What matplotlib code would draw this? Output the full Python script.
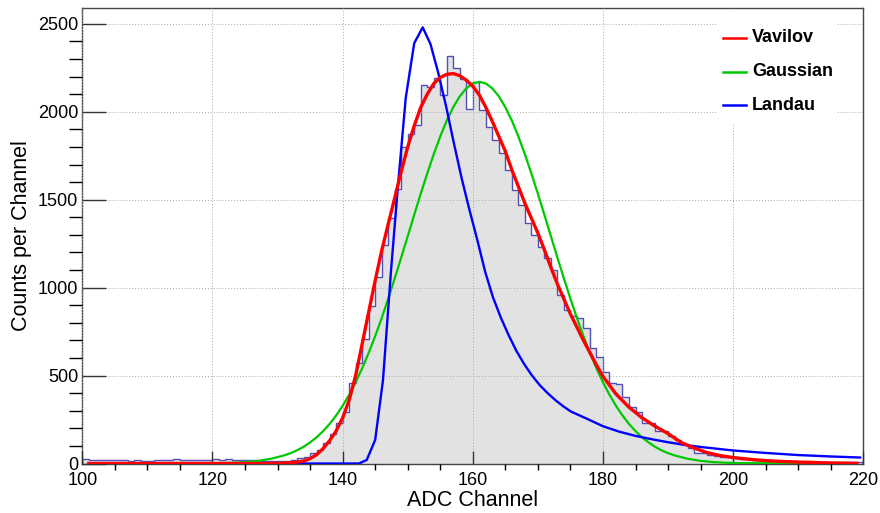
import numpy as np
import matplotlib
matplotlib.use("Agg")
import matplotlib.pyplot as plt
from matplotlib.lines import Line2D
from matplotlib.patches import Rectangle

# ---- data -------------------------------------------------------------
bin_low = 100
bin_high = 220
counts = [
    28, 22, 20, 22, 20, 22, 18, 16, 18, 15,            # 100-109
    17, 20, 18, 22, 24, 20, 22, 18, 20, 22,            # 110-119
    25, 22, 24, 20, 22, 20, 18, 16, 14, 12,            # 120-129
    12, 14, 20, 29, 39, 58, 77, 115, 167, 232,         # 130-139
    294, 456, 573, 706, 895, 1058, 1241, 1395, 1558, 1800,   # 140-149
    1872, 1923, 2155, 2141, 2192, 2094, 2317, 2251, 2188, 2018,  # 150-159
    2170, 2008, 1914, 1838, 1764, 1667, 1554, 1469, 1365, 1298,  # 160-169
    1232, 1166, 1099, 957, 872, 840, 830, 768, 655, 603,     # 170-179
    518, 456, 450, 380, 323, 294, 228, 228, 186, 186,        # 180-189
    156, 135, 110, 90, 60, 58, 50, 45, 35, 35,               # 190-199
    30, 28, 25, 20, 18, 16, 15, 14, 12, 12,                  # 200-209
    10, 12, 10, 8, 10, 8, 10, 8, 6, 8,                       # 210-219
]

vavilov_x = [101, 128, 131, 133, 134, 135, 136, 137, 138, 139, 140, 141, 142,
             143, 144, 145, 146, 147, 148, 149, 150, 151, 152, 153, 154, 155,
             156, 157, 158, 159, 160, 161, 162, 163, 164, 165, 166, 167, 168,
             169, 170, 171, 172, 173, 174, 175, 176, 177, 178, 179, 180, 182,
             184, 186, 188, 190, 192, 194, 196, 198, 200, 203, 206, 210, 215,
             219]
vavilov_y = [0, 0, 2, 8, 14, 28, 50, 85, 130, 185, 260, 360, 500,
             680, 860, 1040, 1210, 1360, 1510, 1660, 1800, 1920, 2025, 2100,
             2160, 2195, 2213, 2217, 2205, 2180, 2145, 2095, 2025, 1945, 1860,
             1775, 1670, 1575, 1480, 1395, 1310, 1215, 1115, 1020, 935, 850,
             775, 700, 630, 560, 495, 395, 320, 260, 212, 170, 120, 88, 62, 45,
             34, 22, 14, 8, 3, 1]

gauss_x = [101, 121, 123, 125, 127, 129, 131, 132, 133, 134, 135, 136, 137,
           138, 139, 140, 141, 142, 143, 144, 145, 146, 147, 148, 149, 150,
           151, 152, 153, 154, 155, 156, 157, 158, 159, 160, 161, 162, 163,
           164, 165, 166, 167, 168, 169, 170, 171, 172, 173, 174, 175, 176,
           177, 178, 179, 180, 181, 182, 183, 184, 185, 186, 187, 188, 189,
           190, 191, 193, 195, 197, 199, 201, 219]
gauss_y = [0, 2, 4, 8, 15, 27, 46, 59, 75, 95, 120, 149, 184,
           225, 273, 328, 391, 462, 541, 629, 724, 827, 937, 1052, 1171, 1292,
           1414, 1534, 1649, 1759, 1860, 1950, 2026, 2088, 2133, 2161, 2170,
           2161, 2133, 2088, 2026, 1950, 1860, 1759, 1649, 1534, 1414, 1292,
           1171, 1052, 937, 827, 724, 629, 541, 462, 391, 328, 273, 225, 184,
           149, 120, 95, 75, 59, 46, 27, 15, 8, 4, 2, 0]

landau_x = [132, 142.5, 143.7, 145.0, 146.2, 147.4, 148.5, 149.7, 151.0,
            152.3, 153.5, 154.7, 155.9, 157.1, 158.3, 159.5, 160.7, 161.9,
            163.1, 164.3, 165.5, 166.7, 167.9, 169.1, 170.3, 171.5, 172.7,
            173.9, 175.1, 177.5, 180, 182.5, 185, 187.5, 190, 192.5, 195,
            200, 205, 210, 215, 219.5]
landau_y = [0, 0, 20, 134, 474, 1080, 1580, 2080, 2390,
            2480, 2385, 2220, 2030, 1820, 1620, 1440, 1270, 1090,
            945, 830, 730, 640, 565, 500, 445, 400, 360,
            325, 295, 255, 212, 181, 157, 138, 121, 106, 94,
            74, 60, 48, 40, 34]

legend_labels = ["Vavilov", "Gaussian", "Landau"]
legend_colors = ["#ff0000", "#00c800", "#0000ff"]

# ---- figure -----------------------------------------------------------
plt.rcParams["font.family"] = ["Liberation Sans", "DejaVu Sans"]

W, H = 880, 513
fig = plt.figure(figsize=(W / 100, H / 100), dpi=100)
ax = fig.add_axes([82.3 / W, 1 - 463.5 / H, (863.3 - 82.3) / W, (463.5 - 8) / H])

edges = np.arange(bin_low, bin_high + 1)
ax.stairs(counts, edges, fill=True, color="#e2e2e2", zorder=1)
ax.stairs(counts, edges, color="#5050b8", lw=1.0, zorder=2)

ax.plot(gauss_x, gauss_y, color=legend_colors[1], lw=1.6, zorder=4)
ax.plot(landau_x, landau_y, color=legend_colors[2], lw=1.7, zorder=5)
ax.plot(vavilov_x, vavilov_y, color=legend_colors[0], lw=2.4, zorder=6,
        solid_joinstyle="round")

ax.set_xlim(bin_low, bin_high)
ax.set_ylim(0, 2590)

ax.set_xticks(np.arange(100, 221, 20))
ax.set_xticks(np.arange(100, 221, 5), minor=True)
ax.set_yticks(np.arange(0, 2501, 500))
ax.set_yticks(np.arange(0, 2590, 100), minor=True)

ax.set_axisbelow(False)
ax.grid(True, which="major", color="#a8a8a8", lw=0.7, linestyle=(0, (1, 2)))

ax.tick_params(axis="both", direction="in", colors="#333333", labelcolor="black",
               labelsize=13, top=False, right=False)
ax.tick_params(axis="x", which="major", length=13 / 1.389, width=1.0, pad=6)
ax.tick_params(axis="x", which="minor", length=6.5 / 1.389, width=1.0)
ax.tick_params(axis="y", which="major", length=24 / 1.389, width=1.0, pad=3)
ax.tick_params(axis="y", which="minor", length=13 / 1.389, width=1.0)

for s in ax.spines.values():
    s.set_color("#444444")
    s.set_linewidth(1.0)

fig.text(473 / W, 1 - 500 / H, "ADC Channel", fontsize=15.5,
         ha="center", va="center")
fig.text(22 / W, 1 - 236 / H, "Counts per Channel", fontsize=15.5,
         rotation=90, ha="center", va="center")

# ---- legend -----------------------------------------------------------
fig.add_artist(Rectangle((717 / W, 1 - 123 / H), 120 / W, 113 / H,
                         transform=fig.transFigure, facecolor="white",
                         edgecolor="none", zorder=10))
for i, (lab, col) in enumerate(zip(legend_labels, legend_colors)):
    yy = 1 - (38 + 33.5 * i) / H
    fig.add_artist(Line2D([723 / W, 746 / W], [yy, yy], transform=fig.transFigure,
                          color=col, lw=1.8, zorder=11))
    fig.text(752 / W, yy, lab, fontsize=13, fontweight="bold",
             ha="left", va="center", zorder=12)

fig.savefig("out.png", dpi=100)
